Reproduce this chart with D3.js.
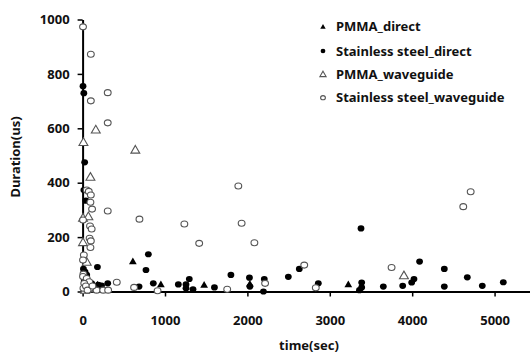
<!DOCTYPE html>
<html>
<head>
<meta charset="utf-8">
<script src="https://cdn.jsdelivr.net/npm/d3@7"></script>
<style>
  body { margin: 0; background: #fff; }
  text { font-family: "Noto Sans", "Open Sans", sans-serif; font-weight: bold; fill: #111; }
</style>
</head>
<body>
<div id="chart"></div>
<script>
// [time(sec), duration(us)]
const pmmaDirect = [
  [610, 110], [950, 26], [1475, 24], [2030, 28], [3225, 26], [15, 80], [180, 25]
];
const steelDirect = [
  [5, 755], [15, 729], [25, 475], [15, 373], [40, 334], [10, 83], [50, 61], [30, 72],
  [20, 42], [60, 30], [110, 30], [180, 90], [190, 24], [305, 30], [230, 22], [80, 15], [40, 20],
  [685, 18], [798, 137], [769, 79], [858, 30], [1162, 26], [1255, 26], [1295, 46], [1255, 12],
  [1340, 8], [1600, 15], [1800, 61], [2025, 51], [2030, 18], [2205, 46], [2195, 0], [2497, 54],
  [2630, 83], [2861, 30], [3379, 232], [3387, 33], [3387, 15], [3360, 5], [3650, 18], [3885, 21],
  [3994, 33], [4022, 46], [4090, 110], [4390, 83], [4390, 18], [4669, 52], [4851, 21], [5106, 34]
];
const pmmaWaveguide = [
  [10, 548], [160, 594], [640, 520], [95, 420], [5, 270], [70, 275], [5, 180], [50, 108],
  [3900, 58], [30, 5], [80, 10]
];
const steelWaveguide = [
  [5, 973], [100, 872], [305, 731], [100, 701], [305, 620], [50, 373], [75, 368], [100, 355],
  [95, 328], [115, 303], [305, 296], [690, 266], [1235, 248], [1415, 177], [1890, 388],
  [1930, 251], [2085, 179], [5, 263], [90, 241], [110, 230], [85, 196], [100, 186], [95, 162],
  [15, 134], [5, 116], [10, 64], [5, 55], [50, 48], [80, 36], [20, 30], [90, 12], [10, 12],
  [170, 5], [250, 5], [310, 5], [415, 34], [625, 15], [910, 3], [1755, 8], [2215, 30],
  [2690, 97], [2830, 14], [3750, 88], [4620, 312], [4710, 367], [40, 20], [60, 5], [120, 20]
];
const xTicks = [0, 1000, 2000, 3000, 4000, 5000];
const yTicks = [0, 200, 400, 600, 800, 1000];
const seriesNames = ["PMMA_direct", "Stainless steel_direct", "PMMA_waveguide", "Stainless steel_waveguide"];

const W = 530, H = 359;
const svg = d3.select("#chart").append("svg").attr("width", W).attr("height", H);

const x = d3.scaleLinear().domain([0, 5430]).range([82.6, 530]);
const y = d3.scaleLinear().domain([0, 1000]).range([291.5, 19.5]);

// axes
const xAxis = svg.append("g")
  .attr("transform", `translate(0,${y(0)})`)
  .call(d3.axisBottom(x).tickValues(xTicks).tickFormat(d3.format("d"))
    .tickSize(5).tickSizeOuter(0).tickPadding(19));
const yAxis = svg.append("g")
  .attr("transform", `translate(${x(0)},0)`)
  .call(d3.axisLeft(y).tickValues(yTicks).tickFormat(d3.format("d"))
    .tickSize(5).tickSizeOuter(0).tickPadding(8));

[xAxis, yAxis].forEach(a => {
  a.select(".domain").attr("stroke", "#000").attr("stroke-width", 2);
  a.selectAll(".tick line").attr("stroke", "#000").attr("stroke-width", 1.5);
  a.selectAll(".tick text").style("font-size", "13px").attr("fill", "#111");
});

svg.append("text")
  .attr("transform", `translate(20,157) rotate(-90)`)
  .attr("text-anchor", "middle")
  .style("font-size", "13px")
  .text("Duration(us)");
svg.append("text")
  .attr("x", 309).attr("y", 350)
  .attr("text-anchor", "middle")
  .style("font-size", "13px")
  .text("time(sec)");

const tri = (s) => d3.symbol().type(d3.symbolTriangle).size(s)();

function drawMarkers(data, kind, scale) {
  const g = svg.append("g");
  data.forEach(d => drawOne(g, x(d[0]), y(d[1]), kind, scale));
}
function drawOne(g, cx, cy, kind, scale) {
  if (kind === 0) {
    g.append("path").attr("d", tri(26 * scale * scale))
      .attr("transform", `translate(${cx},${cy + 0.5})`).attr("fill", "#000");
  } else if (kind === 1) {
    g.append("ellipse").attr("cx", cx).attr("cy", cy)
      .attr("rx", 3.4 * scale).attr("ry", 3.1 * scale).attr("fill", "#000");
  } else if (kind === 2) {
    g.append("path").attr("d", tri(34 * scale * scale))
      .attr("transform", `translate(${cx},${cy + 0.5})`)
      .attr("fill", "#fff").attr("stroke", "#555").attr("stroke-width", 1.1);
  } else {
    g.append("ellipse").attr("cx", cx).attr("cy", cy)
      .attr("rx", 3.4 * scale).attr("ry", 3.0 * scale)
      .attr("fill", "#fff").attr("stroke", "#555").attr("stroke-width", 1.1);
  }
}

drawMarkers(pmmaDirect, 0, 1);
drawMarkers(steelDirect, 1, 1);
drawMarkers(pmmaWaveguide, 2, 1);
drawMarkers(steelWaveguide, 3, 1);

// legend
const legend = svg.append("g");
const legendY = [26.7, 51, 74.3, 97.7];
seriesNames.forEach((name, i) => {
  drawOne(legend, 323, legendY[i], i, 0.7);
  legend.append("text")
    .attr("x", 336).attr("y", legendY[i]).attr("dy", "0.35em")
    .style("font-size", "13px")
    .text(name);
});
</script>
</body>
</html>
